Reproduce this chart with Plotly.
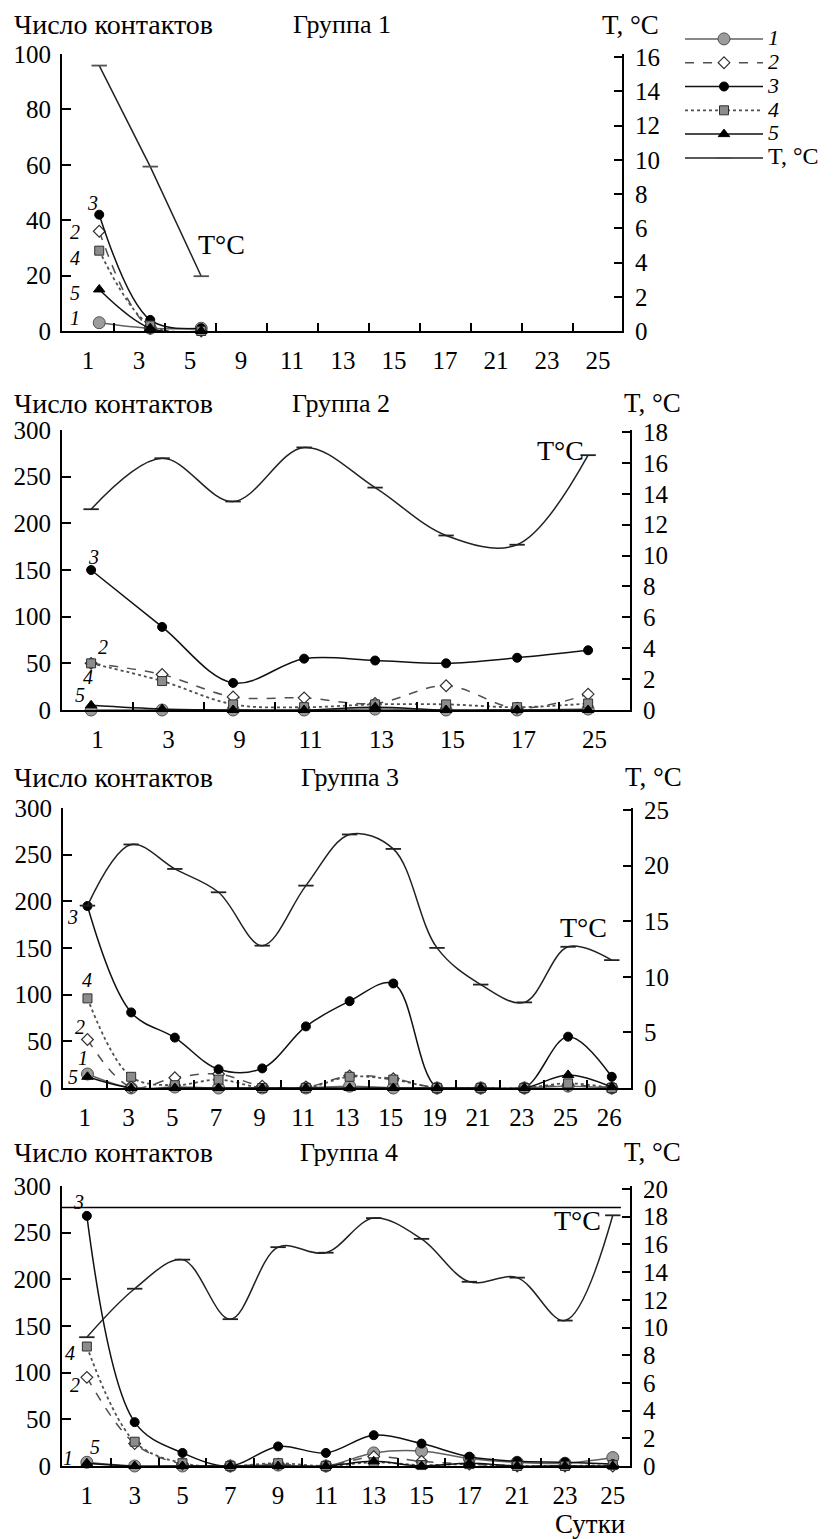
import plotly.graph_objects as go

W, H = 835, 1539
FONT = "Liberation Serif"

# ---------------- data ----------------
# Group 1
g1_days = ["1", "3", "5", "9", "11", "13", "15", "17", "21", "23", "25"]
g1_obs = ["1", "3", "5"]
g1_s1 = [3, 1, 1]
g1_s2 = [36, 1, 0]
g1_s3 = [42, 4, 1]
g1_s4 = [29, 2, 0]
g1_s5 = [15, 1, 0]
g1_T = [15.5, 9.6, 3.2]

# Group 2
g2_days = ["1", "3", "9", "11", "13", "15", "17", "25"]
g2_obs = g2_days
g2_s1 = [0, 0, 0, 0, 1, 0, 0, 1]
g2_s2 = [50, 38, 14, 13, 7, 26, 2, 17]
g2_s3 = [150, 89, 29, 55, 53, 50, 56, 64]
g2_s4 = [50, 31, 6, 3, 6, 6, 3, 7]
g2_s5 = [5, 1, 0, 0, 3, 0, 0, 0]
g2_T = [13.0, 16.3, 13.5, 17.0, 14.4, 11.3, 10.7, 16.5]

# Group 3
g3_days = ["1", "3", "5", "7", "9", "11", "13", "15", "19", "21", "23", "25", "26"]
g3_obs = g3_days
g3_s1 = [15, 0, 1, 0, 0, 0, 2, 0, 0, 0, 0, 2, 0]
g3_s2 = [52, 1, 11, 15, 2, 1, 13, 10, 0, 0, 0, 3, 0]
g3_s3 = [195, 81, 54, 20, 21, 66, 93, 112, 0, 0, 0, 55, 12]
g3_s4 = [96, 12, 3, 9, 0, 0, 12, 9, 0, 0, 0, 5, 0]
g3_s5 = [12, 0, 0, 0, 0, 0, 0, 0, 0, 0, 0, 14, 1]
g3_T = [16.4, 21.9, 19.7, 17.6, 12.8, 18.2, 22.8, 21.5, 12.6, 9.3, 7.7, 12.7, 11.5]

# Group 4
g4_days = ["1", "3", "5", "7", "9", "11", "13", "15", "17", "21", "23", "25"]
g4_obs = g4_days
g4_s1 = [4, 0, 0, 0, 1, 0, 14, 16, 8, 4, 3, 9]
g4_s2 = [95, 24, 2, 0, 2, 0, 10, 5, 2, 0, 0, 0]
g4_s3 = [268, 47, 14, 0, 21, 14, 33, 24, 10, 5, 4, 2]
g4_s4 = [128, 26, 3, 0, 3, 0, 4, 1, 2, 0, 0, 1]
g4_s5 = [3, 0, 0, 0, 0, 0, 5, 0, 3, 0, 0, 0]
g4_T = [9.3, 12.8, 14.9, 10.6, 15.8, 15.4, 17.9, 16.4, 13.3, 13.6, 10.5, 18.1]
g4_ref_line = 277

left_max = [100, 300, 300, 300]
left_dtick = [20, 50, 50, 50]
right_max = [16, 18, 25, 20]
right_dtick = [2, 2, 5, 2]

series_labels = ["1", "2", "3", "4", "5"]
T_name = "T, °C"
group_titles = ["Группа 1", "Группа 2", "Группа 3", "Группа 4"]

groups = [
    (g1_days, g1_obs, [g1_s1, g1_s2, g1_s3, g1_s4, g1_s5], g1_T),
    (g2_days, g2_obs, [g2_s1, g2_s2, g2_s3, g2_s4, g2_s5], g2_T),
    (g3_days, g3_obs, [g3_s1, g3_s2, g3_s3, g3_s4, g3_s5], g3_T),
    (g4_days, g4_obs, [g4_s1, g4_s2, g4_s3, g4_s4, g4_s5], g4_T),
]

# ---------------- layout geometry (pixels) ----------------
boxes = [
    dict(x0=62, x1=622, y0=54, y1=331),
    dict(x0=62, x1=630, y0=430, y1=710),
    dict(x0=63, x1=631, y0=808, y1=1088),
    dict(x0=62, x1=630, y0=1186, y1=1466),
]
xpad = [(-0.51, 0.47), (-0.5, 0.5), (-0.5, 0.5), (-0.52, 0.36)]
pt_offset = [0.22, -0.09, 0.06, 0.0]
right_stretch = [277 / 274, 280 / 278, 280 / 278, 280 / 277]

styles = [
    dict(marker=dict(symbol="circle", size=12, color="#9c9c9c", line=dict(color="#505050", width=1)),
         line=dict(color="#606060", width=1.5, dash="solid")),
    dict(marker=dict(symbol="diamond", size=9, color="white", line=dict(color="#303030", width=1.2)),
         line=dict(color="#505050", width=1.5, dash="dash")),
    dict(marker=dict(symbol="circle", size=9, color="black", line=dict(color="black", width=1)),
         line=dict(color="#111111", width=1.5, dash="solid")),
    dict(marker=dict(symbol="square", size=9, color="#8c8c8c", line=dict(color="#303030", width=1)),
         line=dict(color="#505050", width=1.8, dash="dot")),
    dict(marker=dict(symbol="triangle-up", size=10, color="black", line=dict(color="black", width=1)),
         line=dict(color="#111111", width=1.5, dash="solid")),
]
T_colors = ["#505050", "#222222", "#222222", "#222222"]

fig = go.Figure()
layout = dict()


def px_x(p):
    return p / W


def px_y(p):
    return 1 - p / H


TICK = 25
for i, (days, obs, series, T) in enumerate(groups):
    b = boxes[i]
    xn = "x" if i == 0 else f"x{i + 1}"
    yl = "y" if i == 0 else f"y{2 * i + 1}"
    yr = f"y{2 * i + 2}"
    xkey = "xaxis" if i == 0 else f"xaxis{i + 1}"
    ylkey = "yaxis" if i == 0 else f"yaxis{2 * i + 1}"
    yrkey = f"yaxis{2 * i + 2}"
    n = len(days)
    xpos = [days.index(d) + pt_offset[i] for d in obs]
    shape = "linear" if i == 0 else "spline"

    for k, s in enumerate(series):
        st = styles[k]
        fig.add_trace(go.Scatter(
            x=xpos, y=s, xaxis=xn, yaxis=yl, mode="lines+markers",
            name=f'<span style="font-size:22px"><i>{series_labels[k]}</i></span>',
            showlegend=(i == 0),
            marker=st["marker"], line=dict(**st["line"], shape="spline", smoothing=1.0),
            cliponaxis=False,
        ))
    fig.add_trace(go.Scatter(
        x=xpos, y=T, xaxis=xn, yaxis=yr, mode="lines+markers",
        name=f'<span style="font-size:24px">{T_name}</span>', showlegend=(i == 0),
        marker=dict(symbol="line-ew", size=11, line=dict(color=T_colors[i], width=1.8)),
        line=dict(color=T_colors[i] if i else "#222222", width=1.5, shape=shape, smoothing=1.0),
        cliponaxis=False,
    ))

    dom_x = [px_x(b["x0"]), px_x(b["x1"])]
    dom_y = [px_y(b["y1"]), px_y(b["y0"])]
    layout[xkey] = dict(
        domain=dom_x, anchor=yl, range=[xpad[i][0], n - 1 + xpad[i][1]],
        tickmode="array", tickvals=list(range(n)), ticktext=days, ticks="",
        showline=True, linewidth=2, linecolor="black", showgrid=False, zeroline=False,
        tickfont=dict(size=TICK, color="black", family=FONT), ticklabelstandoff=6,
        automargin=False,
        minor=dict(tickmode="array", tickvals=[k + 0.5 for k in range(n - 1)], ticks="inside",
                   ticklen=8, tickwidth=2, tickcolor="black", showgrid=False),
    )
    layout[ylkey] = dict(
        domain=dom_y, anchor=xn, range=[0, left_max[i]], dtick=left_dtick[i], tick0=0,
        ticks="inside", ticklen=9, tickwidth=2, tickcolor="black",
        showline=True, linewidth=2, linecolor="black", showgrid=False, zeroline=False,
        tickfont=dict(size=TICK, color="black", family=FONT), ticklabelstandoff=4,
        automargin=False,
    )
    layout[yrkey] = dict(
        domain=dom_y, anchor=xn, overlaying=yl, side="right",
        range=[0, right_max[i] * right_stretch[i]], dtick=right_dtick[i], tick0=0,
        ticks="inside", ticklen=8, tickwidth=2, tickcolor="black",
        showline=True, linewidth=2, linecolor="black", showgrid=False, zeroline=False,
        tickfont=dict(size=TICK, color="black", family=FONT), ticklabelstandoff=6,
        automargin=False,
    )

annotations = []


def ann(text, x, y, size=24, xanchor="center", italic=False):
    if italic:
        text = f"<i>{text}</i>"
    annotations.append(dict(text=text, x=px_x(x), y=px_y(y), xref="paper", yref="paper",
                            xanchor=xanchor, yanchor="middle", showarrow=False,
                            font=dict(size=size, color="black", family=FONT)))


# panel titles
title_y = [25, 403, 777, 1152]
group_x = [342, 341, 350, 349]
tc_x = [630, 652, 653, 652]
for i in range(4):
    ann("Число контактов", 12, title_y[i], size=28, xanchor="left")
    ann(group_titles[i], group_x[i], title_y[i], size=26)
    ann("T, °C", tc_x[i], title_y[i], size=27)

# T°C curve labels
for (x, y) in [(222, 245), (560, 450), (583, 927), (577, 1220)]:
    ann("T°C", x, y, size=28)

# series number labels
num_labels = [
    ("3", 92, 203), ("2", 75, 232), ("4", 75, 258), ("5", 75, 293), ("1", 75, 318),
    ("3", 93, 557), ("2", 103, 647), ("4", 88, 677), ("5", 80, 695),
    ("3", 72, 917), ("4", 87, 980), ("2", 80, 1027), ("1", 83, 1058), ("5", 73, 1077),
    ("3", 78, 1202), ("4", 70, 1353), ("2", 75, 1385), ("1", 68, 1458), ("5", 95, 1447),
]
for t, x, y in num_labels:
    ann(t, x, y, size=20, italic=True)

ann("Сутки", 590, 1524, size=27)

shapes = [dict(type="line", xref="x4 domain", yref="y7", x0=0, x1=0.984,
               y0=g4_ref_line, y1=g4_ref_line, line=dict(color="black", width=1.5))]

fig.update_layout(
    width=W, height=H, margin=dict(l=0, r=0, t=0, b=0, autoexpand=False),
    paper_bgcolor="white", plot_bgcolor="white",
    font=dict(family=FONT, size=24, color="black"),
    showlegend=True,
    legend=dict(x=px_x(680), y=px_y(22), xanchor="left", yanchor="top",
                bgcolor="rgba(0,0,0,0)", borderwidth=0, itemwidth=78,
                font=dict(size=16, family=FONT, color="black")),
    annotations=annotations, shapes=shapes,
    **layout,
)

post = (
    "document.body.style.margin='0';"
    "document.body.style.overflow='hidden';"
    "var gd=document.getElementById('{plot_id}');"
    "gd.style.position='absolute';gd.style.top='0px';gd.style.left='0px';"
)
fig.write_html("out.html", post_script=post, config={"displayModeBar": False})
